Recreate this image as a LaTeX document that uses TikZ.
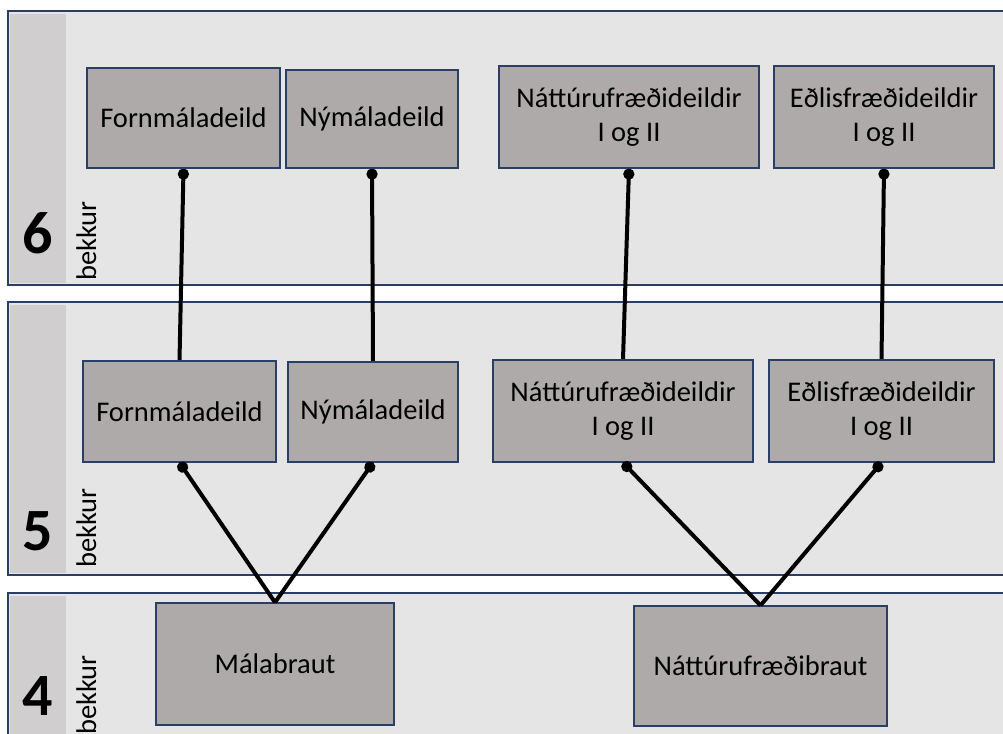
\documentclass[tikz,border=0pt]{standalone}
\usepackage{fontspec}
\setmainfont{Carlito}
\usetikzlibrary{arrows.meta,backgrounds}

\definecolor{bandgray}{HTML}{E5E5E5}
\definecolor{stripgray}{HTML}{D0CECE}
\definecolor{boxgray}{HTML}{AEAAAA}
\definecolor{navy}{HTML}{2B3F66}

\begin{document}
\begin{tikzpicture}[x=1pt,y=-1pt,
            band/.style={draw=navy, line width=1.2pt, fill=bandgray},
            strip/.style={fill=stripgray},
            deild/.style={draw=navy, line width=1.2pt, fill=boxgray, align=center,
                          font=\fontsize{28.5}{34}\selectfont, inner sep=0pt},
            bignum/.style={font=\fontsize{60}{60}\selectfont\bfseries, anchor=base, inner sep=0pt},
            bekk/.style={font=\fontsize{28.5}{34}\selectfont, rotate=90, anchor=base west, inner sep=0pt},
            tengi/.style={line width=4pt, {Circle[length=11pt]}-}]

            \clip (0,0) rectangle (1003,733);

            % bekkir
            \node[bignum] (n6) at (38,253) {6};
            \node[bekk] (b6) at (96,281) {bekkur};
            \node[bignum] (n5) at (38,550) {5};
            \node[bekk] (b5) at (96,568) {bekkur};
            \node[bignum] (n4) at (38,715) {4};
            \node[bekk] (b4) at (96,735) {bekkur};

            % 6. bekkur
            \node[deild, minimum width=193pt, minimum height=100pt] (forn6) at (183.5,118) {Fornmáladeild};
            \node[deild, minimum width=172pt, minimum height=98pt] (ny6) at (372,119) {Nýmáladeild};
            \node[deild, minimum width=260pt, minimum height=102pt] (natt6) at (629,117) {Náttúrufræðideildir\\I og II};
            \node[deild, minimum width=220pt, minimum height=102pt] (edl6) at (884,117) {Eðlisfræðideildir\\I og II};

            % 5. bekkur
            \node[deild, minimum width=193pt, minimum height=101pt] (forn5) at (179.5,411.5) {Fornmáladeild};
            \node[deild, minimum width=170pt, minimum height=100pt] (ny5) at (373,412) {Nýmáladeild};
            \node[deild, minimum width=260pt, minimum height=102pt] (natt5) at (623,411) {Náttúrufræðideildir\\I og II};
            \node[deild, minimum width=225pt, minimum height=102pt] (edl5) at (881.5,411) {Eðlisfræðideildir\\I og II};

            % 4. bekkur
            \node[deild, minimum width=238pt, minimum height=122pt] (mala4) at (275,664) {Málabraut};
            \node[deild, minimum width=253pt, minimum height=120pt] (nattb4) at (760.5,666) {Náttúrufræðibraut};

            \draw[tengi] (forn5.south) -- (mala4.north);
            \draw[tengi] (ny5.south) -- (mala4.north);
            \draw[tengi] (natt5.south) -- (nattb4.north);
            \draw[tengi] (edl5.south) -- (nattb4.north);

            \begin{scope}[on background layer]
                \draw[band] (8,11) rectangle (1010,285);
                \fill[strip] (9.5,14) rectangle (66,283);
                \draw[band] (8,302) rectangle (1010,575);
                \fill[strip] (9.5,305) rectangle (66,573);
                \draw[band] (8,593) rectangle (1010,760);
                \fill[strip] (9.5,596) rectangle (66,760);
                \draw[tengi] (forn6.south) -- (forn5.north);
                \draw[tengi] (ny6.south) -- (ny5.north);
                \draw[tengi] (natt6.south) -- (natt5.north);
                \draw[tengi] (edl6.south) -- (edl5.north);
            \end{scope}
\end{tikzpicture}
\end{document}
